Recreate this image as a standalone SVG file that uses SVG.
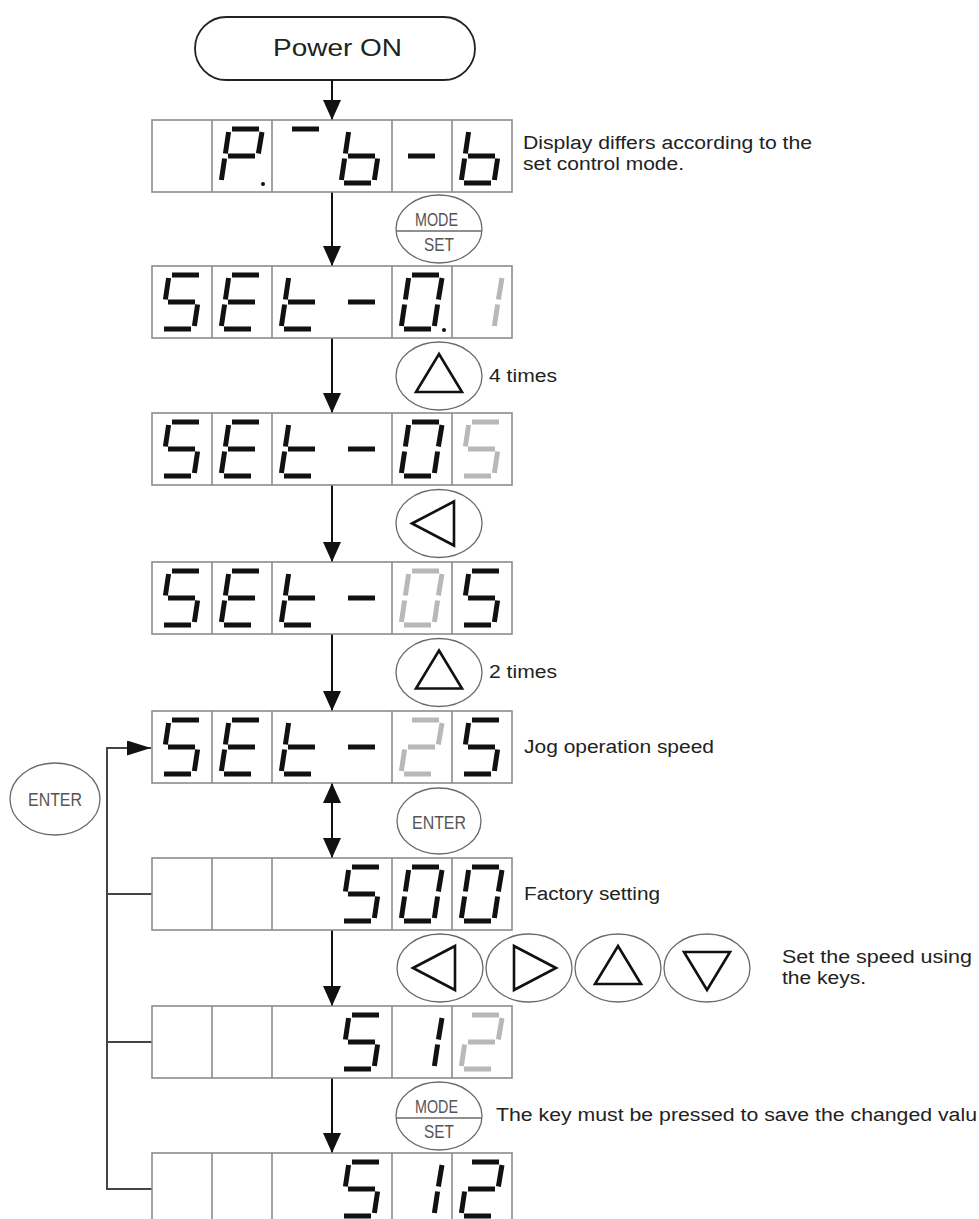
<svg xmlns="http://www.w3.org/2000/svg" width="979" height="1219" viewBox="0 0 979 1219">
<style>
.box{fill:#fff;stroke:#8c8c8c;stroke-width:1.6}
.div{fill:none;stroke:#8c8c8c;stroke-width:1.6}
.seg{fill:none;stroke-width:5;stroke-linecap:butt}
.k{stroke:#111}
.g{stroke:#b8b8b8}
.dp{fill:#111}
.btn{fill:#fff;stroke:#6a6a6a;stroke-width:1.3}
.tri{fill:none;stroke:#111;stroke-width:2.6}
.lbl{font-family:"Liberation Sans",Arial,sans-serif;font-size:18px;fill:#222}
.key{font-family:"Liberation Sans",Arial,sans-serif;font-size:18px;fill:#555}
.conn{fill:none;stroke:#111;stroke-width:2}
.loop{fill:none;stroke:#444;stroke-width:2}
.pill{fill:#fff;stroke:#222;stroke-width:1.8}
</style>
<defs>
<marker id="ah" viewBox="0 0 20 18" refX="20" refY="9" markerWidth="20" markerHeight="18" orient="auto-start-reverse" markerUnits="userSpaceOnUse"><path d="M0,0L20,9L0,18z" fill="#111"/></marker>
<marker id="ah2" viewBox="0 0 24 15" refX="24" refY="7.5" markerWidth="24" markerHeight="15" orient="auto" markerUnits="userSpaceOnUse"><path d="M0,0L24,7.5L0,15z" fill="#111"/></marker>
<path id="c5" d="M20,9H47M16.6,12L13.4,33.5M16,36H43M45.6,38.5L42.4,60M12,63H39"/>
<path id="cE" d="M20,9H47M16.6,12L13.4,33.5M16,36H43M12.6,38.5L9.4,60M12,63H39"/>
<path id="ct" d="M16.6,12L13.4,33.5M16,36H43M12.6,38.5L9.4,60M12,63H39"/>
<path id="cm" d="M16,36H43"/>
<path id="c0" d="M20,9H47M50,12L46.4,33.5M45.6,38.5L42.4,60M12,63H39M12.6,38.5L9.4,60M16.6,12L13.4,33.5"/>
<path id="c1" d="M50,12L46.4,33.5M45.6,38.5L42.4,60"/>
<path id="c2" d="M20,9H47M50,12L46.4,33.5M16,36H43M12.6,38.5L9.4,60M12,63H39"/>
<path id="cP" d="M20,9H47M50,12L46.4,33.5M16.6,12L13.4,33.5M16,36H43M12.6,38.5L9.4,60"/>
<path id="cb" d="M16.6,12L13.4,33.5M12.6,38.5L9.4,60M16,36H43M45.6,38.5L42.4,60M12,63H39"/>
<path id="cA" d="M20,9H47"/>
<path id="tu" d="M0,-22L23,16L-23,16Z"/>
<path id="tl" d="M-27,0L15,-22L15,22Z"/>
<path id="tr" d="M27,0L-15,-22L-15,22Z"/>
<path id="td" d="M0,22L23,-16L-23,-16Z"/>
</defs>
<rect width="979" height="1219" fill="#fff"/>

<g id="power-on">
<rect class="pill" x="195" y="17" width="280" height="63" rx="31.5"/>
<text class="lbl" x="273" y="56" font-size="24" style="font-size:24px" textLength="129" lengthAdjust="spacingAndGlyphs">Power ON</text>
</g>

<g id="connectors">
<path class="conn" d="M332,80V120" marker-end="url(#ah)"/>
<path class="conn" d="M332,120V266" marker-end="url(#ah)"/>
<path class="conn" d="M332,266V413" marker-end="url(#ah)"/>
<path class="conn" d="M332,413V562" marker-end="url(#ah)"/>
<path class="conn" d="M332,562V711" marker-end="url(#ah)"/>
<path class="conn" d="M332,711V783"/>
<path class="conn" d="M332,783V858" marker-start="url(#ah)" marker-end="url(#ah)"/>
<path class="conn" d="M332,858V1006" marker-end="url(#ah)"/>
<path class="conn" d="M332,1006V1153" marker-end="url(#ah)"/>
<path class="conn" d="M332,1153V1219"/>
<path class="loop" d="M152,1189H107V748H151" marker-end="url(#ah2)"/>
<path class="loop" d="M107,894H152M107,1042H152"/>
</g>

<g id="row1">
<rect class="box" x="152" y="120" width="360" height="72"/>
<path class="div" d="M212,120v72M272,120v72M392,120v72M452,120v72"/>
<use href="#cP" class="seg k" x="212" y="120"/>
<circle class="dp" cx="263" cy="184" r="2"/>
<use href="#cA" class="seg k" x="272" y="120"/>
<use href="#cb" class="seg k" x="332" y="120"/>
<use href="#cm" class="seg k" x="392" y="120"/>
<use href="#cb" class="seg k" x="452" y="120"/>
</g>
<g id="note1">
<text class="lbl" x="523" y="149" textLength="289" lengthAdjust="spacingAndGlyphs">Display differs according to the</text>
<text class="lbl" x="523" y="170" textLength="161" lengthAdjust="spacingAndGlyphs">set control mode.</text>
</g>

<g id="key-modeset-1">
<ellipse class="btn" cx="439" cy="229" rx="43" ry="34"/>
<line x1="396" y1="231" x2="482" y2="231" stroke="#6a6a6a" stroke-width="1.3"/>
<text class="key" x="415" y="226" textLength="43" lengthAdjust="spacingAndGlyphs">MODE</text>
<text class="key" x="424" y="251" textLength="30" lengthAdjust="spacingAndGlyphs">SET</text>
</g>

<g id="row2">
<rect class="box" x="152" y="266" width="360" height="72"/>
<path class="div" d="M212,266v72M272,266v72M392,266v72M452,266v72"/>
<use href="#c5" class="seg k" x="152" y="266"/>
<use href="#cE" class="seg k" x="212" y="266"/>
<use href="#ct" class="seg k" x="272" y="266"/>
<use href="#cm" class="seg k" x="332" y="266"/>
<use href="#c0" class="seg k" x="392" y="266"/>
<circle class="dp" cx="444" cy="330" r="2"/>
<use href="#c1" class="seg g" x="452" y="266"/>
</g>

<g id="key-up-1">
<ellipse class="btn" cx="439" cy="376" rx="43" ry="34"/>
<use href="#tu" class="tri" x="439" y="376"/>
<text class="lbl" x="489" y="382" textLength="68" lengthAdjust="spacingAndGlyphs">4 times</text>
</g>

<g id="row3">
<rect class="box" x="152" y="413" width="360" height="72"/>
<path class="div" d="M212,413v72M272,413v72M392,413v72M452,413v72"/>
<use href="#c5" class="seg k" x="152" y="413"/>
<use href="#cE" class="seg k" x="212" y="413"/>
<use href="#ct" class="seg k" x="272" y="413"/>
<use href="#cm" class="seg k" x="332" y="413"/>
<use href="#c0" class="seg k" x="392" y="413"/>
<use href="#c5" class="seg g" x="452" y="413"/>
</g>

<g id="key-left-1">
<ellipse class="btn" cx="439" cy="523.5" rx="43" ry="34"/>
<use href="#tl" class="tri" x="439" y="523.5"/>
</g>

<g id="row4">
<rect class="box" x="152" y="562" width="360" height="72"/>
<path class="div" d="M212,562v72M272,562v72M392,562v72M452,562v72"/>
<use href="#c5" class="seg k" x="152" y="562"/>
<use href="#cE" class="seg k" x="212" y="562"/>
<use href="#ct" class="seg k" x="272" y="562"/>
<use href="#cm" class="seg k" x="332" y="562"/>
<use href="#c0" class="seg g" x="392" y="562"/>
<use href="#c5" class="seg k" x="452" y="562"/>
</g>

<g id="key-up-2">
<ellipse class="btn" cx="439" cy="672.5" rx="43" ry="34"/>
<use href="#tu" class="tri" x="439" y="672.5"/>
<text class="lbl" x="489" y="678" textLength="68" lengthAdjust="spacingAndGlyphs">2 times</text>
</g>

<g id="row5">
<rect class="box" x="152" y="711" width="360" height="72"/>
<path class="div" d="M212,711v72M272,711v72M392,711v72M452,711v72"/>
<use href="#c5" class="seg k" x="152" y="711"/>
<use href="#cE" class="seg k" x="212" y="711"/>
<use href="#ct" class="seg k" x="272" y="711"/>
<use href="#cm" class="seg k" x="332" y="711"/>
<use href="#c2" class="seg g" x="392" y="711"/>
<use href="#c5" class="seg k" x="452" y="711"/>
<text class="lbl" x="524" y="753" textLength="190" lengthAdjust="spacingAndGlyphs">Jog operation speed</text>
</g>

<g id="key-enter-left">
<ellipse class="btn" cx="55" cy="799" rx="45" ry="36"/>
<text class="key" x="28" y="806" textLength="54" lengthAdjust="spacingAndGlyphs">ENTER</text>
</g>

<g id="key-enter">
<ellipse class="btn" cx="439" cy="821" rx="42" ry="33"/>
<text class="key" x="412" y="829" textLength="54" lengthAdjust="spacingAndGlyphs">ENTER</text>
</g>

<g id="row6">
<rect class="box" x="152" y="858" width="360" height="72"/>
<path class="div" d="M212,858v72M272,858v72M392,858v72M452,858v72"/>
<use href="#c5" class="seg k" x="332" y="858"/>
<use href="#c0" class="seg k" x="392" y="858"/>
<use href="#c0" class="seg k" x="452" y="858"/>
<text class="lbl" x="524" y="900" textLength="136" lengthAdjust="spacingAndGlyphs">Factory setting</text>
</g>

<g id="keys-row">
<ellipse class="btn" cx="440" cy="968" rx="43" ry="34"/>
<use href="#tl" class="tri" x="440" y="968"/>
<ellipse class="btn" cx="529" cy="968" rx="43" ry="34"/>
<use href="#tr" class="tri" x="529" y="968"/>
<ellipse class="btn" cx="618" cy="968" rx="43" ry="34"/>
<use href="#tu" class="tri" x="618" y="968"/>
<ellipse class="btn" cx="707" cy="968" rx="43" ry="34"/>
<use href="#td" class="tri" x="707" y="968"/>
<text class="lbl" x="782" y="963" textLength="190" lengthAdjust="spacingAndGlyphs">Set the speed using</text>
<text class="lbl" x="782" y="984" textLength="84" lengthAdjust="spacingAndGlyphs">the keys.</text>
</g>

<g id="row7">
<rect class="box" x="152" y="1006" width="360" height="72"/>
<path class="div" d="M212,1006v72M272,1006v72M392,1006v72M452,1006v72"/>
<use href="#c5" class="seg k" x="332" y="1006"/>
<use href="#c1" class="seg k" x="392" y="1006"/>
<use href="#c2" class="seg g" x="452" y="1006"/>
</g>

<g id="key-modeset-2">
<ellipse class="btn" cx="439" cy="1116" rx="43" ry="34"/>
<line x1="396" y1="1118" x2="482" y2="1118" stroke="#6a6a6a" stroke-width="1.3"/>
<text class="key" x="415" y="1113" textLength="43" lengthAdjust="spacingAndGlyphs">MODE</text>
<text class="key" x="424" y="1138" textLength="30" lengthAdjust="spacingAndGlyphs">SET</text>
<text class="lbl" x="496" y="1121" textLength="481" lengthAdjust="spacingAndGlyphs">The key must be pressed to save the changed valu</text>
</g>

<g id="row8">
<rect class="box" x="152" y="1153" width="360" height="72"/>
<path class="div" d="M212,1153v72M272,1153v72M392,1153v72M452,1153v72"/>
<use href="#c5" class="seg k" x="332" y="1153"/>
<use href="#c1" class="seg k" x="392" y="1153"/>
<use href="#c2" class="seg k" x="452" y="1153"/>
</g>
</svg>
